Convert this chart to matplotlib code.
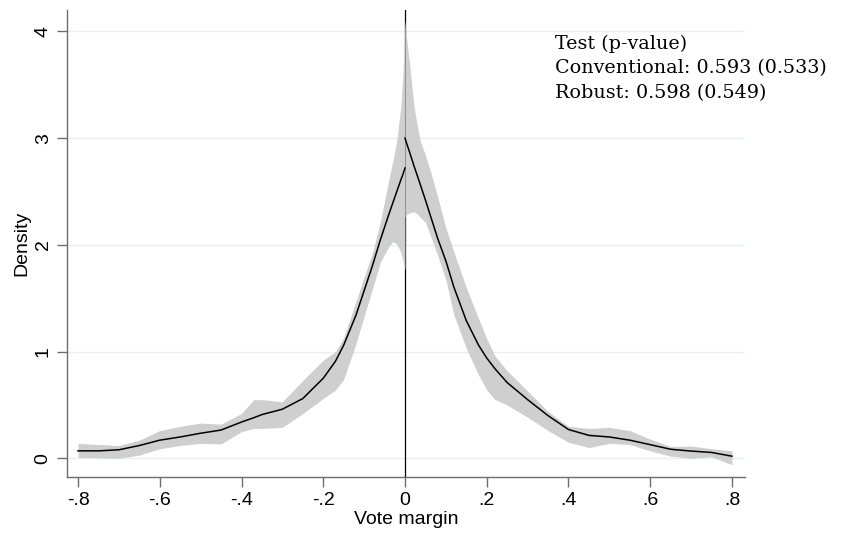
import matplotlib
matplotlib.use("Agg")
import matplotlib.pyplot as plt

# Left of cutoff
x_left = [-0.8, -0.75, -0.7, -0.65, -0.6, -0.55, -0.5, -0.45, -0.4, -0.37, -0.35, -0.3, -0.25,
          -0.2, -0.17, -0.15, -0.12, -0.1, -0.08, -0.06, -0.04, -0.03, -0.02, -0.01, -0.005, 0.0]
dens_left = [0.07, 0.07, 0.08, 0.12, 0.17, 0.20, 0.235, 0.265, 0.34, 0.38, 0.41, 0.46, 0.56,
             0.75, 0.91, 1.06, 1.34, 1.57, 1.80, 2.05, 2.28, 2.39, 2.50, 2.61, 2.66, 2.72]
upper_left = [0.14, 0.13, 0.12, 0.17, 0.26, 0.30, 0.33, 0.32, 0.42, 0.55, 0.55, 0.53, 0.73,
              0.92, 1.00, 1.13, 1.47, 1.70, 1.92, 2.22, 2.60, 2.78, 2.98, 3.30, 3.60, 4.10]
lower_left = [0.01, 0.005, 0.0, 0.03, 0.09, 0.12, 0.14, 0.135, 0.25, 0.28, 0.28, 0.29, 0.42,
              0.56, 0.64, 0.74, 1.07, 1.33, 1.58, 1.84, 1.98, 2.03, 2.01, 1.93, 1.85, 1.77]

# Right of cutoff
x_right = [0.0, 0.005, 0.012, 0.022, 0.03, 0.037, 0.05, 0.06, 0.08, 0.1, 0.12, 0.15, 0.18, 0.2,
           0.22, 0.25, 0.3, 0.35, 0.4, 0.45, 0.5, 0.55, 0.6, 0.65, 0.7, 0.75, 0.8]
dens_right = [3.0, 2.94, 2.86, 2.74, 2.65, 2.57, 2.42, 2.30, 2.06, 1.85, 1.60, 1.29, 1.06, 0.94,
              0.84, 0.71, 0.55, 0.40, 0.27, 0.215, 0.20, 0.17, 0.128, 0.085, 0.068, 0.055, 0.02]
upper_right = [4.10, 3.90, 3.67, 3.30, 3.12, 2.98, 2.84, 2.72, 2.45, 2.16, 1.93, 1.60, 1.31, 1.12,
               0.96, 0.82, 0.63, 0.44, 0.30, 0.28, 0.29, 0.26, 0.18, 0.11, 0.115, 0.09, 0.07]
lower_right = [2.26, 2.29, 2.30, 2.31, 2.29, 2.26, 2.21, 2.11, 1.90, 1.67, 1.34, 1.03, 0.78, 0.64,
               0.55, 0.50, 0.385, 0.26, 0.15, 0.10, 0.14, 0.13, 0.07, 0.02, 0.0, 0.015, -0.06]

xticks = [-0.8, -0.6, -0.4, -0.2, 0.0, 0.2, 0.4, 0.6, 0.8]
xticklabels = ["-.8", "-.6", "-.4", "-.2", "0", ".2", ".4", ".6", ".8"]
yticks = [0, 1, 2, 3, 4]
yticklabels = ["0", "1", "2", "3", "4"]

test_lines = ["Test (p-value)", "Conventional: 0.593 (0.533)", "Robust: 0.598 (0.549)"]

W, H = 848, 533
fig = plt.figure(figsize=(W / 100, H / 100), dpi=100)
ax = fig.add_axes([67 / W, 1 - 477 / H, (745 - 67) / W, (477 - 10) / H])
ax.set_xlim(-0.827, 0.832)
ax.set_ylim(-0.175, 4.2)

for y in yticks:
    ax.axhline(y, color="#e8eff1", lw=1.0, zorder=0)

ax.axvline(0, color="black", lw=0.9, zorder=1)

band = "#cdcdcd"
ax.fill_between(x_left, lower_left, upper_left, color=band, alpha=0.95, lw=0, zorder=2)
ax.fill_between(x_right, lower_right, upper_right, color=band, alpha=0.95, lw=0, zorder=2)
ax.plot(x_left, dens_left, color="black", lw=1.1, zorder=3)
ax.plot(x_right, dens_right, color="black", lw=1.1, zorder=3)

for s in ["top", "right"]:
    ax.spines[s].set_visible(False)
for s in ["left", "bottom"]:
    ax.spines[s].set_color("#6e6e6e")
    ax.spines[s].set_linewidth(1.0)

ax.set_xticks(xticks)
ax.set_xticklabels(xticklabels, fontsize=14, family="Liberation Sans")
ax.set_yticks(yticks)
ax.set_yticklabels(yticklabels, fontsize=14, family="Liberation Sans", rotation=90, va="center")
ax.tick_params(axis="both", length=7, width=1.0, color="#6e6e6e", pad=4)
ax.set_xlabel("Vote margin", fontsize=14, family="Liberation Sans", labelpad=1)
ax.set_ylabel("Density", fontsize=14, family="Liberation Sans", labelpad=3)

for i, t in enumerate(test_lines):
    fig.text(555 / W, 1 - (49 + 24.5 * i) / H, t, fontsize=13.8, family="DejaVu Serif",
             va="baseline", ha="left")

fig.savefig("out.png", dpi=100, facecolor="white")
